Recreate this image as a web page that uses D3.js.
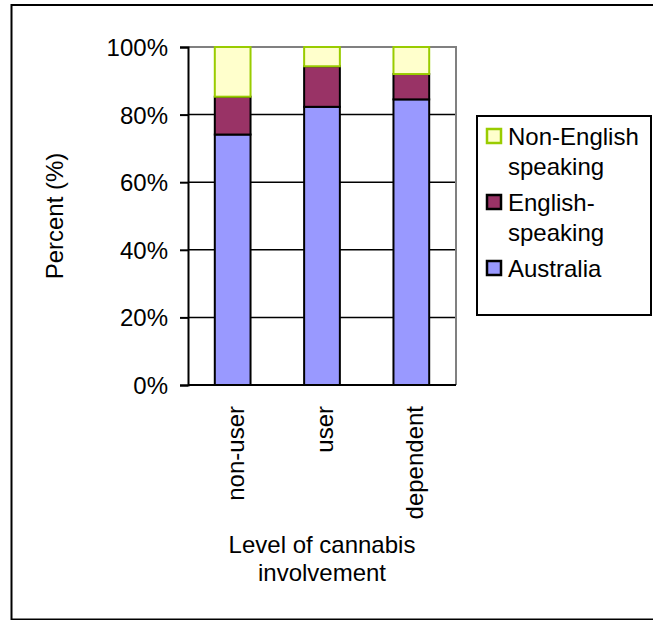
<!DOCTYPE html>
<html>
<head>
<meta charset="utf-8">
<script src="https://cdn.jsdelivr.net/npm/d3@7"></script>
<style>
  html, body { margin: 0; padding: 0; background: #fff; }
  svg { display: block; }
  text { font-family: "Liberation Sans", Arial, sans-serif; fill: #000; }
</style>
</head>
<body>
<script>
// Country of birth by level of cannabis involvement (stacked to 100%)
const categories = ["non-user", "user", "dependent"];
const seriesNames = ["Australia", "English-speaking", "Non-English speaking"];
const australia = [74.1, 82.3, 84.5];
const englishSpeaking = [11.2, 12.0, 7.5];
const nonEnglishSpeaking = [14.7, 5.7, 8.0];
const yTicks = [0, 20, 40, 60, 80, 100];

const fills = ["#9999FF", "#993366", "#FFFFCC"];
const strokes = ["#000000", "#000000", "#99CC00"];

const W = 653, H = 620;
const plot = { left: 188, right: 456, top: 47, bottom: 385 };

const svg = d3.select("body").append("svg")
  .attr("width", W).attr("height", H);

// outer frame
svg.append("rect")
  .attr("x", 11.5).attr("y", 5).attr("width", 660).attr("height", 614.5)
  .attr("fill", "none").attr("stroke", "#000").attr("stroke-width", 2);

const x = d3.scaleBand()
  .domain(categories)
  .range([plot.left, plot.right])
  .paddingInner(0.6).paddingOuter(0.3);

const y = d3.scaleLinear().domain([0, 100]).range([plot.bottom, plot.top]);

// horizontal gridlines
svg.append("g").selectAll("line")
  .data(yTicks.filter(t => t > 0 && t < 100))
  .join("line")
  .attr("x1", plot.left).attr("x2", plot.right)
  .attr("y1", d => y(d)).attr("y2", d => y(d))
  .attr("stroke", "#000").attr("stroke-width", 1.5);

// plot area top/right border
svg.append("path")
  .attr("d", `M${plot.left},${plot.top}H${plot.right}V${plot.bottom}`)
  .attr("fill", "none").attr("stroke", "#808080").attr("stroke-width", 2);

// stacked bars
const rows = categories.map((c, i) => ({
  cat: c,
  "Australia": australia[i],
  "English-speaking": englishSpeaking[i],
  "Non-English speaking": nonEnglishSpeaking[i]
}));
const stacked = d3.stack().keys(seriesNames)(rows);

svg.append("g").selectAll("g")
  .data(stacked)
  .join("g")
  .attr("fill", (d, i) => fills[i])
  .attr("stroke", (d, i) => strokes[i])
  .attr("stroke-width", 2)
  .selectAll("rect")
  .data(d => d)
  .join("rect")
  .attr("x", d => x(d.data.cat))
  .attr("width", x.bandwidth())
  .attr("y", d => y(d[1]))
  .attr("height", d => y(d[0]) - y(d[1]));

// y axis
const yAxis = svg.append("g")
  .attr("transform", `translate(${plot.left},0)`)
  .call(d3.axisLeft(y).tickValues(yTicks).tickFormat(d => d + "%").tickSize(8).tickPadding(12));
yAxis.select(".domain").attr("stroke", "#000").attr("stroke-width", 2);
yAxis.selectAll(".tick line").attr("stroke", "#000").attr("stroke-width", 2);
yAxis.selectAll(".tick text")
  .attr("font-size", 24).attr("dy", "0.35em")
  .style("font-family", '"Liberation Sans", Arial, sans-serif');

// x axis
const xAxis = svg.append("g")
  .attr("transform", `translate(0,${plot.bottom})`)
  .call(d3.axisBottom(x).tickSize(0).tickPadding(0));
xAxis.select(".domain").attr("stroke", "#000").attr("stroke-width", 2)
  .attr("d", `M${plot.left},0H${plot.right}`);
xAxis.selectAll(".tick text")
  .attr("font-size", 24)
  .style("font-family", '"Liberation Sans", Arial, sans-serif')
  .attr("text-anchor", "end")
  .attr("transform", "translate(3,21) rotate(-90)")
  .attr("x", 0).attr("y", 0).attr("dy", "0.35em");

// axis titles
svg.append("text")
  .attr("transform", `translate(63,${(plot.top + plot.bottom) / 2}) rotate(-90)`)
  .attr("text-anchor", "middle").attr("font-size", 24)
  .text("Percent (%)");

const xTitle = svg.append("text")
  .attr("text-anchor", "middle").attr("font-size", 24);
xTitle.append("tspan").attr("x", (plot.left + plot.right) / 2).attr("y", 553).text("Level of cannabis");
xTitle.append("tspan").attr("x", (plot.left + plot.right) / 2).attr("y", 581).text("involvement");

// legend
const legend = svg.append("g");
legend.append("rect")
  .attr("x", 477).attr("y", 116).attr("width", 174).attr("height", 199)
  .attr("fill", "#fff").attr("stroke", "#000").attr("stroke-width", 2);

const legendItems = [
  { i: 2, lines: ["Non-English", "speaking"], y: 145 },
  { i: 1, lines: ["English-", "speaking"], y: 211 },
  { i: 0, lines: ["Australia"], y: 277 }
];
legendItems.forEach(item => {
  legend.append("rect")
    .attr("x", 487).attr("y", item.y - 16).attr("width", 14).attr("height", 14)
    .attr("fill", fills[item.i]).attr("stroke", strokes[item.i]).attr("stroke-width", 2.5);
  const t = legend.append("text").attr("font-size", 24);
  item.lines.forEach((ln, k) => {
    t.append("tspan").attr("x", 508).attr("y", item.y + k * 30).text(ln);
  });
});
</script>
</body>
</html>
